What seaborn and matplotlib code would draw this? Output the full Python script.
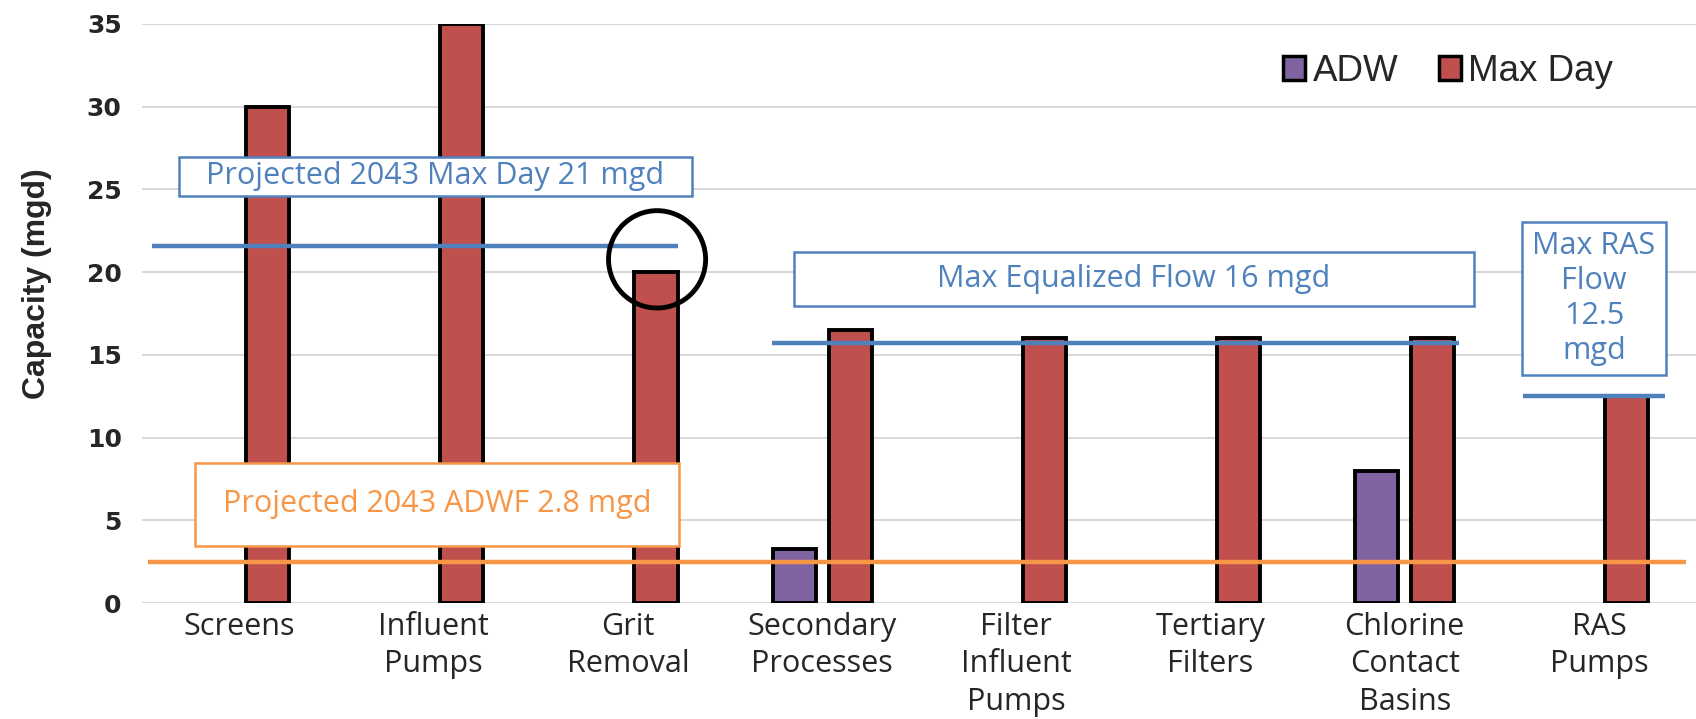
import numpy as np
import pandas as pd
import matplotlib
matplotlib.use("Agg")
import matplotlib.pyplot as plt
from matplotlib.patches import Rectangle, Ellipse, Patch
import seaborn as sns

#----------------------------------
# Data
#----------------------------------
categories = ["Screens", "Influent\nPumps", "Grit\nRemoval", "Secondary\nProcesses",
              "Filter\nInfluent\nPumps", "Tertiary\nFilters", "Chlorine\nContact\nBasins",
              "RAS\nPumps"]
adw = [np.nan, np.nan, np.nan, 3.3, np.nan, np.nan, 8.0, np.nan]
max_day = [30, 35, 20, 16.5, 16, 16, 16, 12.5]
series = ["ADW", "Max Day"]
colors = ["#8064A2", "#C0504D"]

# reference lines: value, x start, x end, colour
ref_values = [21.6, 15.7, 12.5, 2.5]
ref_spans = [(-0.45, 2.26), (2.74, 6.28), (6.61, 7.34), (-0.47, 7.45)]
ref_colors = ["#4F81BD", "#4F81BD", "#4F81BD", "#F79646"]

# annotation boxes: text, (x0, x1, y0, y1), colour
box_texts = ["Projected 2043 Max Day 21 mgd", "Projected 2043 ADWF 2.8 mgd",
             "Max Equalized Flow 16 mgd", "Max RAS\nFlow\n12.5\nmgd"]
box_extents = [(-0.311, 2.328, 24.62, 26.97), (-0.228, 2.261, 3.46, 8.49),
               (2.856, 6.356, 17.96, 21.22), (6.606, 7.344, 13.78, 23.05)]
box_colors = ["#4F81BD", "#F79646", "#4F81BD", "#4F81BD"]

df = pd.DataFrame({
    "Process": categories * 2,
    "Flow": series[0:1] * len(categories) + series[1:2] * len(categories),
    "Capacity": adw + max_day,
}).dropna()

#----------------------------------
# Plot
#----------------------------------
sns.set_style("white")
plt.rcParams["font.family"] = ["Open Sans", "DejaVu Sans"]

fig = plt.figure(figsize=(16.96, 7.19), dpi=100)
ax = fig.add_axes([0.084, 0.161, 0.916, 0.806])

sns.barplot(data=df, x="Process", y="Capacity", hue="Flow", order=categories,
            hue_order=series, palette=colors, saturation=1, errorbar=None,
            width=0.577, gap=0.23, edgecolor="black", linewidth=2.8, ax=ax, zorder=2)

ax.set_xlim(-0.5, 7.5)
ax.set_ylim(0, 35)
ax.set_yticks(range(0, 36, 5))
ax.grid(axis="y", color="#D9D9D9", linewidth=1.5, zorder=0)
ax.set_axisbelow(True)
for s in ax.spines.values():
    s.set_visible(False)

ax.tick_params(axis="x", length=0, pad=6, labelsize=22)
ax.tick_params(axis="y", length=0, pad=15)
for lab in ax.get_xticklabels():
    lab.set_linespacing(1.33)
    lab.set_verticalalignment("top")
for lab in ax.get_yticklabels():
    lab.set_fontfamily("DejaVu Sans")
    lab.set_fontweight("bold")
    lab.set_fontsize(18)

ax.set_xlabel("")
ax.set_ylabel("Capacity (mgd)", fontfamily="Liberation Sans", fontweight="bold", fontsize=23)
ax.yaxis.set_label_coords(-0.058, 0.552)

# reference lines
for v, (x0, x1), c in zip(ref_values, ref_spans, ref_colors):
    ax.plot([x0, x1], [v, v], color=c, linewidth=3.2, zorder=4, solid_capstyle="butt")

# annotation boxes
for t, (x0, x1, y0, y1), c in zip(box_texts, box_extents, box_colors):
    ax.add_patch(Rectangle((x0, y0), x1 - x0, y1 - y0, facecolor="white",
                           edgecolor=c, linewidth=1.8, zorder=5))
    ax.text((x0 + x1) / 2, (y0 + y1) / 2, t, color=c, fontsize=22, ha="center",
            va="center", linespacing=1.22, zorder=6)

# circle around grit removal
ax.add_patch(Ellipse((2.15, 20.77), 0.5, 5.88, facecolor="none", edgecolor="black",
                     linewidth=3.5, zorder=7))

# legend
handles = [Patch(facecolor=c, edgecolor="black", linewidth=2.5) for c in colors]
ax.legend(handles, series, loc="upper right", bbox_to_anchor=(0.968, 1.005), ncol=2,
          frameon=False, prop={"family": "Liberation Sans", "size": 26.5},
          handlelength=0.6, handleheight=0.6, handletextpad=0.2, columnspacing=1.1)

fig.savefig("out.png", dpi=100)
